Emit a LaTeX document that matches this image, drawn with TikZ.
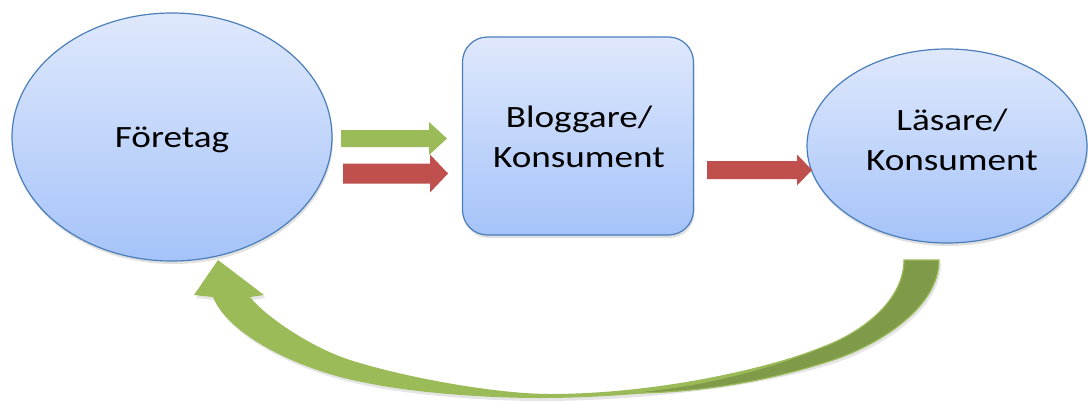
\documentclass[tikz,border=0pt]{standalone}
\usepackage{fontspec}
\setmainfont{Carlito}[FakeStretch=1.2]
\usetikzlibrary{shapes.geometric,shadows}

\definecolor{boxline}{HTML}{4A7EBB}
\definecolor{boxtop}{HTML}{DFE8FC}
\definecolor{boxbot}{HTML}{A5C3F9}
\definecolor{leaf}{HTML}{9BBB59}
\definecolor{leafdark}{HTML}{7F9A48}
\definecolor{brick}{HTML}{C0504D}

% block arrow: start x, tip x, centre y, shaft half-height, head half-height, head length, colour
\newcommand\blkarrow[7]{%
  \fill[#7] (#1,#3-#4) -- (#2-#6,#3-#4) -- (#2-#6,#3-#5) -- (#2,#3)
    -- (#2-#6,#3+#5) -- (#2-#6,#3+#4) -- (#1,#3+#4) -- cycle;}

% outline of the curved return arrow
\newcommand\feedbackpath{%
  (939,260) .. controls (939,310) and (873,347) .. (833,360)
  .. controls (763,383) and (640,398) .. (540,398)
  .. controls (480,398) and (410,392) .. (367,383)
  .. controls (300,371) and (228,335) .. (213,297)
  -- (194,295) -- (218,260) -- (264,295) -- (250,297)
  .. controls (265,316) and (310,347) .. (350,360)
  .. controls (410,379) and (500,394) .. (550,394)
  .. controls (640,394) and (748,375) .. (823,347)
  .. controls (863,332) and (904,300) .. (904,260) -- cycle}

\tikzset{
  blob/.style={ellipse, draw=boxline, line width=1.2pt, top color=boxtop,
    bottom color=boxbot, inner sep=0pt,
    drop shadow={shadow xshift=1pt, shadow yshift=-3pt, opacity=0.12, fill=black}},
  card/.style={rectangle, rounded corners=25pt, draw=boxline, line width=1.2pt,
    top color=boxtop, bottom color=boxbot, inner sep=0pt,
    drop shadow={shadow xshift=1pt, shadow yshift=-3pt, opacity=0.12, fill=black}},
  caption/.style={font=\fontsize{31}{40}\selectfont, align=center, inner sep=0pt},
}

\begin{document}
\begin{tikzpicture}[x=1pt, y=-1pt]
\useasboundingbox (0,0) rectangle (1088,400);
\fill[white] (0,0) rectangle (1088,400);

% curved return arrow: soft shadow, front face, back face
\fill[black, opacity=0.10, shift={(2,3)}] \feedbackpath;
\fill[leaf] \feedbackpath;
\filldraw[fill=leafdark, draw=leaf, line width=1.2pt]
  (904,260) -- (939,260) .. controls (939,310) and (873,347) .. (833,360)
  .. controls (763,383) and (690,394) .. (620,393)
  .. controls (690,389) and (760,372) .. (823,347)
  .. controls (863,332) and (904,300) .. (904,260) -- cycle;

% shapes
\node[blob, minimum width=320pt, minimum height=248pt] (firm) at (172,137) {};
\node[card, minimum width=231pt, minimum height=198pt] (blog) at (578,136) {};
\node[blob, minimum width=280pt, minimum height=194pt] (reader) at (947,146) {};

% captions
\node[caption] (firmtxt) at (172,140) {Företag};
\node[caption] (blogtxt) at (579,137) {Bloggare/\\Konsument};
\node[caption] (readertxt) at (952,140) {Läsare/\\Konsument};

% straight block arrows
\blkarrow{341}{447}{138.5}{8.5}{16.5}{18}{leaf}
\blkarrow{343}{448}{173.5}{10}{19}{18}{brick}
\blkarrow{707}{812}{170}{9}{15.5}{15}{brick}
\end{tikzpicture}
\end{document}
